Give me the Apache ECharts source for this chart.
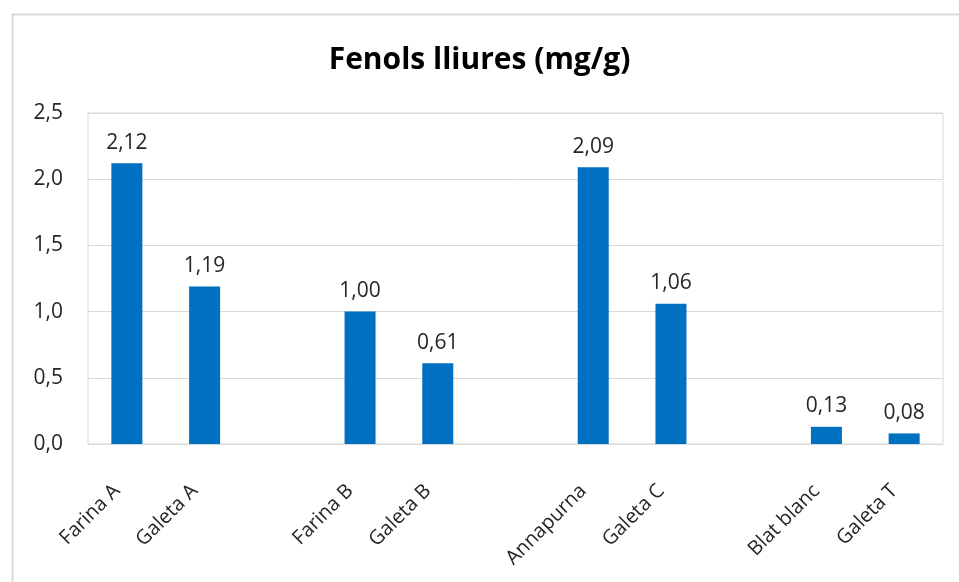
<!DOCTYPE html>
<html>
<head>
<meta charset="utf-8">
<script src="https://cdn.jsdelivr.net/npm/echarts@6/dist/echarts.min.js"></script>
<style>
	html, body { margin: 0; padding: 0; background: #fff; }
	#chart { width: 959px; height: 582px; }
</style>
</head>
<body>
<div id="chart"></div>
<script>
	// categories (empty ones are the gaps between groups)
	var categories = ['Farina A', 'Galeta A', '', 'Farina B', 'Galeta B', '', 'Annapurna', 'Galeta C', '', 'Blat blanc', 'Galeta T']
	var fenols = [2.12, 1.19, null, 1.00, 0.61, null, 2.09, 1.06, null, 0.13, 0.08]
	var yTicks = [0, 0.5, 1.0, 1.5, 2.0, 2.5]

	var font = '"Open Sans", "Liberation Sans", sans-serif'
	var chart = echarts.init(document.getElementById('chart'))

	var comma = function (v, d) {
		return Number(v).toFixed(d).replace('.', ',')
	}

	chart.setOption({
		animation: false,
		backgroundColor: '#fff',
		graphic: [{
			type: 'rect',
			shape: { x: 12.5, y: 14.5, width: 960, height: 580 },
			style: { fill: 'none', stroke: '#d9d9d9', lineWidth: 2 },
			silent: true
		}],
		title: {
			text: 'Fenols lliures (mg/g)',
			left: 'center',
			top: 40,
			textStyle: {
				fontFamily: font,
				fontWeight: 'bold',
				fontSize: 30,
				color: '#000'
			}
		},
		grid: {
			left: 88,
			right: 16,
			top: 113,
			bottom: 138,
			show: true,
			borderColor: '#d9d9d9',
			borderWidth: 1
		},
		xAxis: {
			type: 'category',
			data: categories,
			axisLine: { lineStyle: { color: '#d9d9d9' } },
			axisTick: { show: false },
			axisLabel: {
				interval: 0,
				rotate: 45,
				margin: 34,
				padding: [0, 14, 0, 0],
				fontFamily: font,
				fontSize: 20,
				color: '#262626'
			}
		},
		yAxis: {
			type: 'value',
			min: yTicks[0],
			max: yTicks[yTicks.length - 1],
			interval: 0.5,
			axisLine: { show: false },
			axisTick: { show: false },
			splitLine: { lineStyle: { color: '#d9d9d9' } },
			axisLabel: {
				margin: 25,
				fontFamily: font,
				fontSize: 21,
				color: '#262626',
				formatter: function (v) { return comma(v, 1) }
			}
		},
		series: [{
			name: 'Fenols lliures',
			type: 'bar',
			data: fenols,
			barWidth: 31,
			itemStyle: { color: '#0070C0' },
			label: {
				show: true,
				position: 'top',
				distance: 10,
				fontFamily: font,
				fontSize: 21,
				color: '#262626',
				formatter: function (p) { return comma(p.value, 2) }
			}
		}]
	})
</script>
</body>
</html>
